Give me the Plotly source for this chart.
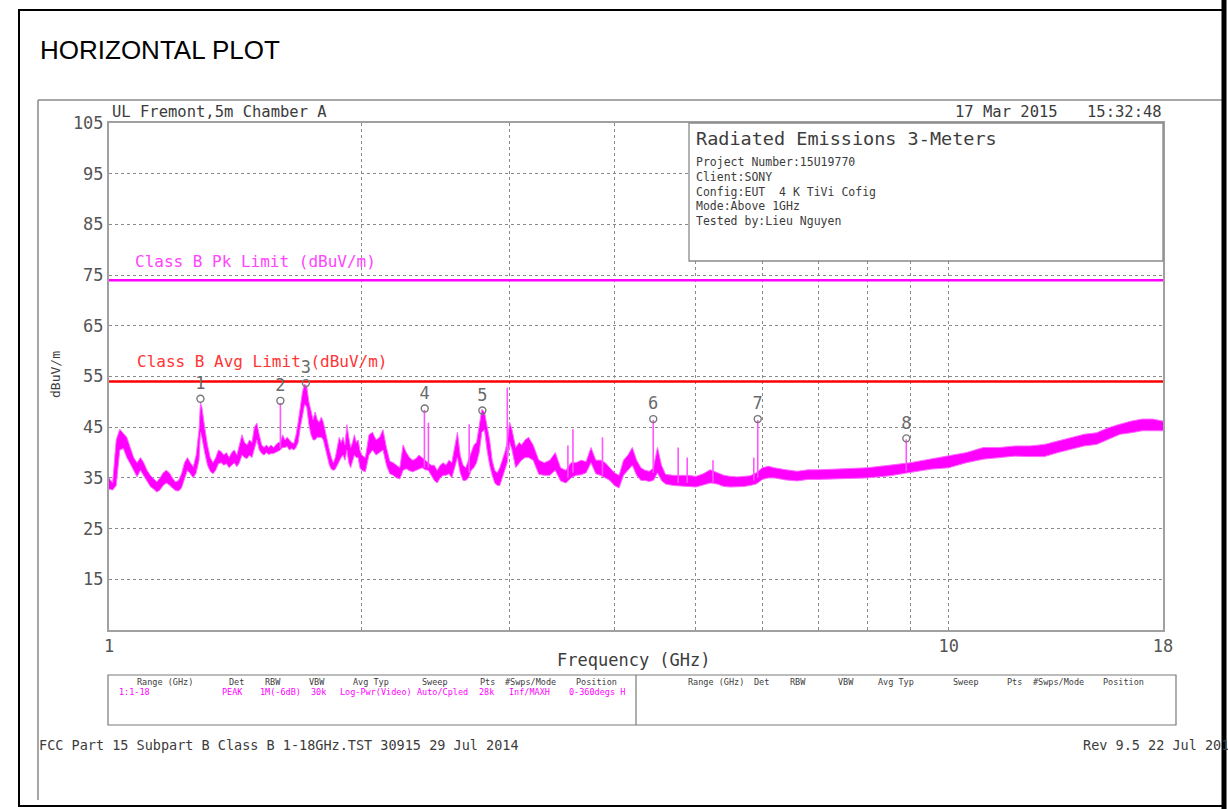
import math
import plotly.graph_objects as go

# ---------------- data ----------------
freq_ghz = [
    1.00, 1.01, 1.02, 1.03, 1.04, 1.05, 1.06, 1.07, 1.08, 1.09,
    1.10, 1.11, 1.12, 1.13, 1.14, 1.15, 1.16, 1.17, 1.18, 1.19,
    1.20, 1.21, 1.22, 1.23, 1.24, 1.25, 1.26, 1.27, 1.28, 1.285,
    1.29, 1.30, 1.31, 1.32, 1.33, 1.34, 1.35, 1.36, 1.37, 1.38,
    1.39, 1.40, 1.41, 1.42, 1.43, 1.44, 1.45, 1.46, 1.47, 1.48,
    1.49, 1.50, 1.51, 1.52, 1.53, 1.54, 1.55, 1.56, 1.57, 1.58,
    1.59, 1.60, 1.61, 1.62, 1.63, 1.64, 1.65, 1.66, 1.67, 1.68,
    1.69, 1.70, 1.71, 1.72, 1.73, 1.74, 1.75, 1.76, 1.77, 1.78,
    1.79, 1.80, 1.81, 1.82, 1.83, 1.84, 1.85, 1.86, 1.87, 1.88,
    1.89, 1.90, 1.91, 1.92, 1.93, 1.94, 1.95, 1.96, 1.97, 1.98,
    1.99, 2.00,
    2.02, 2.04, 2.06, 2.08, 2.10, 2.12, 2.14, 2.16, 2.18, 2.20,
    2.22, 2.24, 2.26, 2.28, 2.30, 2.32, 2.34, 2.36, 2.38, 2.40,
    2.42, 2.44, 2.46, 2.48, 2.50, 2.52, 2.54, 2.56, 2.58, 2.60,
    2.62, 2.64, 2.66, 2.68, 2.70, 2.72, 2.74, 2.76, 2.78, 2.80,
    2.82, 2.84, 2.86, 2.88, 2.90, 2.92, 2.94, 2.96, 2.98, 3.00,
    3.02, 3.05, 3.08, 3.10, 3.13, 3.16, 3.20, 3.25, 3.30, 3.35,
    3.40, 3.45, 3.50, 3.55, 3.60, 3.65, 3.70, 3.75, 3.80, 3.85,
    3.90, 3.95, 4.00,
    4.05, 4.10, 4.15, 4.20, 4.25, 4.30, 4.35, 4.40, 4.45, 4.50,
    4.55, 4.60, 4.70, 4.80, 4.90, 5.00, 5.10, 5.20, 5.30, 5.40,
    5.50, 5.60, 5.70, 5.80, 5.90, 6.00, 6.10, 6.20, 6.40, 6.60,
    6.80, 7.00, 7.50, 8.00, 8.50, 9.00, 9.50, 10.0, 10.5, 11.0,
    11.5, 12.0, 12.5, 13.0, 13.5, 14.0, 14.5, 15.0, 15.5, 16.0,
    16.5, 17.0, 17.5, 18.0,
]
upper_dbuv = [
    35.0, 34.0, 42.5, 44.6, 43.8, 43.0, 41.0, 39.0, 38.0, 39.0,
    38.0, 36.5, 35.5, 34.8, 34.2, 35.0, 36.0, 36.5, 36.0, 35.0,
    34.2, 34.5, 35.8, 38.0, 39.0, 38.0, 37.2, 39.5, 44.5, 49.8,
    49.0, 45.0, 41.5, 39.0, 38.0, 39.0, 40.5, 40.2, 39.5, 40.0,
    39.0, 40.0, 40.5, 39.5, 41.5, 43.5, 42.0, 41.5, 42.5, 42.0,
    45.0, 45.8, 43.5, 41.5, 41.0, 41.5, 41.0, 41.5, 41.0, 41.5,
    42.0, 42.0, 43.5, 42.5, 43.0, 42.5, 42.0, 41.8, 43.5, 46.0,
    49.5, 52.0, 53.5, 53.0, 50.0, 48.5, 46.5, 48.0, 46.5, 46.0,
    47.0, 46.0, 44.0, 42.5, 40.5, 39.0, 38.0, 39.0, 41.0, 43.0,
    42.0, 43.0, 41.5, 45.5, 43.0, 41.0, 42.0, 43.5, 42.0, 42.5,
    40.5, 39.5,
    39.0, 43.5, 44.0, 42.5, 43.0, 44.5, 41.0, 38.3, 38.0, 37.5,
    37.0, 41.5, 40.0, 39.0, 38.5, 38.8, 39.5, 39.0, 38.5, 38.0,
    37.5, 37.5, 36.5, 37.5, 38.0, 37.5, 38.5, 38.0, 41.0, 44.0,
    39.5, 37.5, 37.0, 38.5, 40.0, 41.5, 42.0, 45.0, 48.5, 48.0,
    45.0, 42.5, 38.5, 36.5, 36.0, 37.0, 38.5, 40.0, 42.0, 46.0,
    44.5, 41.0, 42.0, 41.5, 42.5, 43.0, 41.5, 38.5, 38.0, 38.5,
    40.0, 37.0, 36.5, 38.0, 38.0, 38.5, 38.2, 41.0, 38.5, 38.5,
    38.0, 37.0, 36.0,
    35.5, 38.5, 39.5, 41.0, 38.5, 37.0, 36.5, 36.3, 37.0, 41.0,
    37.5, 35.7, 35.5, 35.5, 35.5, 35.3, 35.8, 36.6, 36.0, 35.5,
    35.3, 35.2, 35.3, 35.4, 36.0, 37.0, 37.3, 37.0, 36.6, 36.3,
    36.6, 36.6, 36.8, 37.0, 37.5, 38.0, 38.7, 39.3, 40.0, 41.0,
    41.0, 41.3, 41.3, 41.6, 42.3, 42.9, 43.6, 43.9, 44.9, 45.6,
    46.2, 46.6, 46.6, 46.2,
]
lower_dbuv = [
    32.8, 32.6, 33.5, 40.5, 40.8, 39.0, 37.8, 36.5, 35.2, 36.5,
    35.5, 34.5, 33.3, 32.8, 32.2, 32.6, 33.5, 34.0, 33.6, 33.0,
    32.5, 32.4, 33.0, 34.8, 36.5, 35.8, 35.0, 36.0, 38.5, 44.0,
    43.0, 40.0, 37.5, 36.3, 35.8, 36.5, 37.8, 38.0, 37.5, 37.8,
    37.0, 37.5, 38.0, 37.2, 38.0, 39.5, 39.0, 38.8, 39.5, 39.0,
    41.0, 42.5, 40.5, 39.8, 39.5, 40.0, 39.6, 39.8, 39.8, 40.0,
    40.2, 40.5, 41.0, 41.0, 41.2, 40.5, 40.8, 40.5, 41.0, 42.0,
    45.0, 47.0, 49.5, 49.0, 45.5, 43.5, 42.5, 42.5, 43.0, 43.0,
    43.0, 42.5, 41.0, 39.5, 37.5, 36.7, 36.5, 36.7, 37.5, 38.5,
    39.0, 39.5, 38.5, 40.5, 38.0, 37.0, 38.5, 39.5, 39.0, 39.0,
    37.0, 36.5,
    36.2, 39.5, 40.5, 39.5, 40.0, 40.5, 37.5, 35.8, 35.5, 35.0,
    34.8, 36.5, 36.8, 36.4, 36.2, 36.5, 36.8, 37.0, 36.6, 36.5,
    35.5, 34.5, 34.0, 35.0, 35.5, 35.5, 35.8, 35.0, 37.0, 39.0,
    36.0, 34.5, 34.5, 35.0, 36.5, 37.0, 38.0, 40.0, 44.0, 44.5,
    40.5, 37.5, 35.5, 34.0, 33.5, 33.5, 35.0, 36.5, 38.0, 42.0,
    40.5, 37.0, 38.0, 38.5, 39.0, 39.0, 38.5, 35.7, 35.5, 35.5,
    36.5, 34.4, 34.0, 35.0, 35.5, 35.6, 36.0, 38.0, 35.8, 35.5,
    35.0, 34.5, 33.5,
    33.0, 35.5, 36.5, 37.5, 35.5, 34.5, 34.5, 34.3, 34.5, 36.0,
    34.5, 33.8, 33.5, 33.4, 33.4, 33.2, 33.6, 34.0, 33.8, 33.3,
    33.2, 33.2, 33.3, 33.5, 33.8, 34.7, 35.0, 35.0, 34.6, 34.4,
    34.7, 34.7, 34.9, 35.0, 35.4, 36.0, 36.7, 37.0, 38.0, 38.7,
    39.0, 39.3, 39.2, 39.2, 40.0, 40.6, 41.3, 41.6, 42.6, 43.6,
    43.9, 44.3, 44.3, 44.3,
]

# narrow spurs
spike_freq = [1.600, 2.375, 2.401, 2.685, 2.981, 3.520, 3.569, 3.870,
              4.448, 4.763, 4.882, 5.240, 5.860, 5.924, 8.903]
spike_base = [40.8, 37.0, 37.0, 36.0, 39.0, 35.0, 36.0, 35.5,
              36.0, 34.0, 34.0, 34.0, 34.5, 35.0, 36.3]
spike_top = [49.8, 48.4, 45.9, 45.6, 52.8, 41.4, 44.6, 43.0,
             46.4, 41.0, 39.0, 38.5, 39.0, 46.4, 42.6]

# numbered markers
marker_freq = [1.285, 1.600, 1.716, 2.377, 2.784, 4.448, 5.924, 8.903]
marker_level = [50.6, 50.2, 53.7, 48.7, 48.3, 46.6, 46.6, 42.8]
marker_label = ["1", "2", "3", "4", "5", "6", "7", "8"]

# limits
limit_freq = [1, 18]
pk_limit = [74, 74]
avg_limit = [54, 54]

# axes
y_ticks = [15, 25, 35, 45, 55, 65, 75, 85, 95, 105]
x_grid = [1, 2, 3, 4, 5, 6, 7, 8, 9, 10, 18]
x_tick_text = ["1", "", "", "", "", "", "", "", "", "10", "18"]

# table text
tbl_head_left = ["Range (GHz)", "Det", "RBW", "VBW", "Avg Typ", "Sweep", "Pts", "#Swps/Mode", "Position"]
tbl_head_left_x = [165, 236, 273, 317, 371, 435, 487, 530, 596]
tbl_vals = ["PEAK", "1M(-6dB)", "30k", "Log-Pwr(Video)", "Auto/Cpled", "28k", "Inf/MAXH", "0-360degs H"]
tbl_vals_x = [232, 280, 318, 376, 442, 486, 529, 597]
tbl_head_right_x = [716, 761, 798, 846, 896, 966, 1014, 1058, 1123]

info_lines = ["Project Number:15U19770", "Client:SONY", "Config:EUT\u00a0\u00a04 K TiVi Cofig",
              "Mode:Above 1GHz", "Tested by:Lieu Nguyen"]

# ---------------- layout helpers ----------------
W, H = 1228, 809
L, R, T, B = 109, 1163, 123, 630
MONO = "DejaVu Sans Mono"
GRAY = "#8a8a8a"
TXT = "#3c3c3c"


def px(x):
    return (x - L) / (R - L)


def py(y):
    return (B - y) / (B - T)


def txt(x, y, s, size, color=TXT, xanchor="left", family=MONO, **kw):
    return dict(x=px(x), y=py(y), xref="paper", yref="paper", text=s, showarrow=False,
                xanchor=xanchor, yanchor="middle", font=dict(family=family, size=size, color=color), **kw)


def pline(x0, y0, x1, y1, color=GRAY, width=1.5):
    return dict(type="line", xref="paper", yref="paper", x0=px(x0), y0=py(y0), x1=px(x1), y1=py(y1),
                line=dict(color=color, width=width), layer="above")


fig = go.Figure()

# trace band (lower / upper envelope)
fig.add_trace(go.Scatter(x=freq_ghz, y=lower_dbuv, mode="lines",
                         line=dict(color="#ff66ff", width=1), hoverinfo="skip"))
fig.add_trace(go.Scatter(x=freq_ghz, y=upper_dbuv, mode="lines", fill="tonexty",
                         fillcolor="#ff00ff", line=dict(color="#ff66ff", width=1), hoverinfo="skip"))

sx, sy = [], []
for f, b, t in zip(spike_freq, spike_base, spike_top):
    sx += [f, f, None]
    sy += [b, t, None]
fig.add_trace(go.Scatter(x=sx, y=sy, mode="lines", line=dict(color="#ff55ff", width=1.6),
                         hoverinfo="skip"))

fig.add_trace(go.Scatter(x=limit_freq, y=pk_limit, mode="lines",
                         line=dict(color="#ff00ff", width=2.5), hoverinfo="skip"))
fig.add_trace(go.Scatter(x=limit_freq, y=avg_limit, mode="lines",
                         line=dict(color="#ff0000", width=2.5), hoverinfo="skip"))

fig.add_trace(go.Scatter(x=marker_freq, y=marker_level, mode="markers+text", text=marker_label,
                         textposition="top center",
                         textfont=dict(family=MONO, size=17, color="#6a6a6a"),
                         marker=dict(symbol="circle-open", size=7, color="#777777",
                                     line=dict(width=1.4, color="#777777")),
                         hoverinfo="skip", cliponaxis=False))

annotations = [
    txt(38, 50, "HORIZONTAL PLOT", 26, color="#000000", family="Liberation Sans"),
    txt(110, 112, "UL Fremont,5m Chamber A", 15.5),
    txt(1060, 112, "17 Mar 2015", 15.5, xanchor="right"),
    txt(1164, 112, "15:32:48", 15.5, xanchor="right"),
    txt(55, 375, "dBuV/m", 13, textangle=-90, xanchor="center"),
    txt(634, 660, "Frequency (GHz)", 17, xanchor="center"),
    txt(133, 261, "Class B Pk Limit (dBuV/m)", 16, color="#ff44ff"),
    txt(135, 361, "Class B Avg Limit (dBuV/m)", 16, color="#ff3535"),
    txt(694, 138, "Radiated Emissions 3-Meters", 18.5),
    txt(37, 745, "FCC Part 15 Subpart B Class B 1-18GHz.TST 30915 29 Jul 2014", 13.5),
    txt(1081, 745, "Rev 9.5 22 Jul 201", 13.5),
    txt(117, 692, "1:1-18", 8.5, color="#ff00ff"),
]
for i, s in enumerate(info_lines):
    annotations.append(txt(694, 162 + i * 14.8, s, 11.5))
for s, x in zip(tbl_head_left, tbl_head_left_x):
    annotations.append(txt(x, 682, s, 8.5, xanchor="center"))
for s, x in zip(tbl_head_left, tbl_head_right_x):
    annotations.append(txt(x, 682, s, 8.5, xanchor="center"))
for s, x in zip(tbl_vals, tbl_vals_x):
    annotations.append(txt(x, 692, s, 8.5, color="#ff00ff", xanchor="center"))

shapes = [
    # info box (white, covers the grid lines)
    dict(type="rect", xref="paper", yref="paper", x0=px(689), x1=px(1163), y0=py(261), y1=py(123),
         line=dict(color="#8a8a8a", width=1.3), fillcolor="white", layer="above"),
    # bottom table
    dict(type="rect", xref="paper", yref="paper", x0=px(108), x1=px(1176), y0=py(725), y1=py(675),
         line=dict(color="#7a7a7a", width=1.2), layer="above"),
    pline(636, 675, 636, 725, color="#7a7a7a", width=1.2),
    # inner gray frame
    pline(38, 100, 1222, 100, color="#8a8a8a", width=1.5),
    pline(38, 100, 38, 800, color="#8a8a8a", width=1.5),
    # outer black border
    dict(type="rect", xref="paper", yref="paper", x0=px(19), x1=px(1224), y0=py(806), y1=py(10),
         line=dict(color="#000000", width=2), layer="above"),
    pline(1224, 0, 1224, 809, color="#000000", width=5),
]

fig.update_layout(
    width=W, height=H,
    margin=dict(l=L, r=W - R, t=T, b=H - B, pad=0),
    paper_bgcolor="white", plot_bgcolor="white",
    showlegend=False,
    annotations=annotations,
    shapes=shapes,
    xaxis=dict(type="log", range=[0, math.log10(18)], tickvals=x_grid, ticktext=x_tick_text,
               showgrid=True, gridcolor=GRAY, griddash="dot", gridwidth=1,
               showline=True, linecolor="#a0a0a0", linewidth=2, mirror=True,
               ticks="", zeroline=False,
               tickfont=dict(family=MONO, size=17, color="#555555")),
    yaxis=dict(range=[5, 105], tickvals=y_ticks,
               showgrid=True, gridcolor=GRAY, griddash="dot", gridwidth=1,
               showline=True, linecolor="#a0a0a0", linewidth=2, mirror=True,
               ticks="", zeroline=False,
               tickfont=dict(family=MONO, size=17, color="#555555")),
)

fig.write_html("out.html", config={"displayModeBar": False},
               post_script="document.body.style.margin='0';document.body.style.overflow='hidden';")
